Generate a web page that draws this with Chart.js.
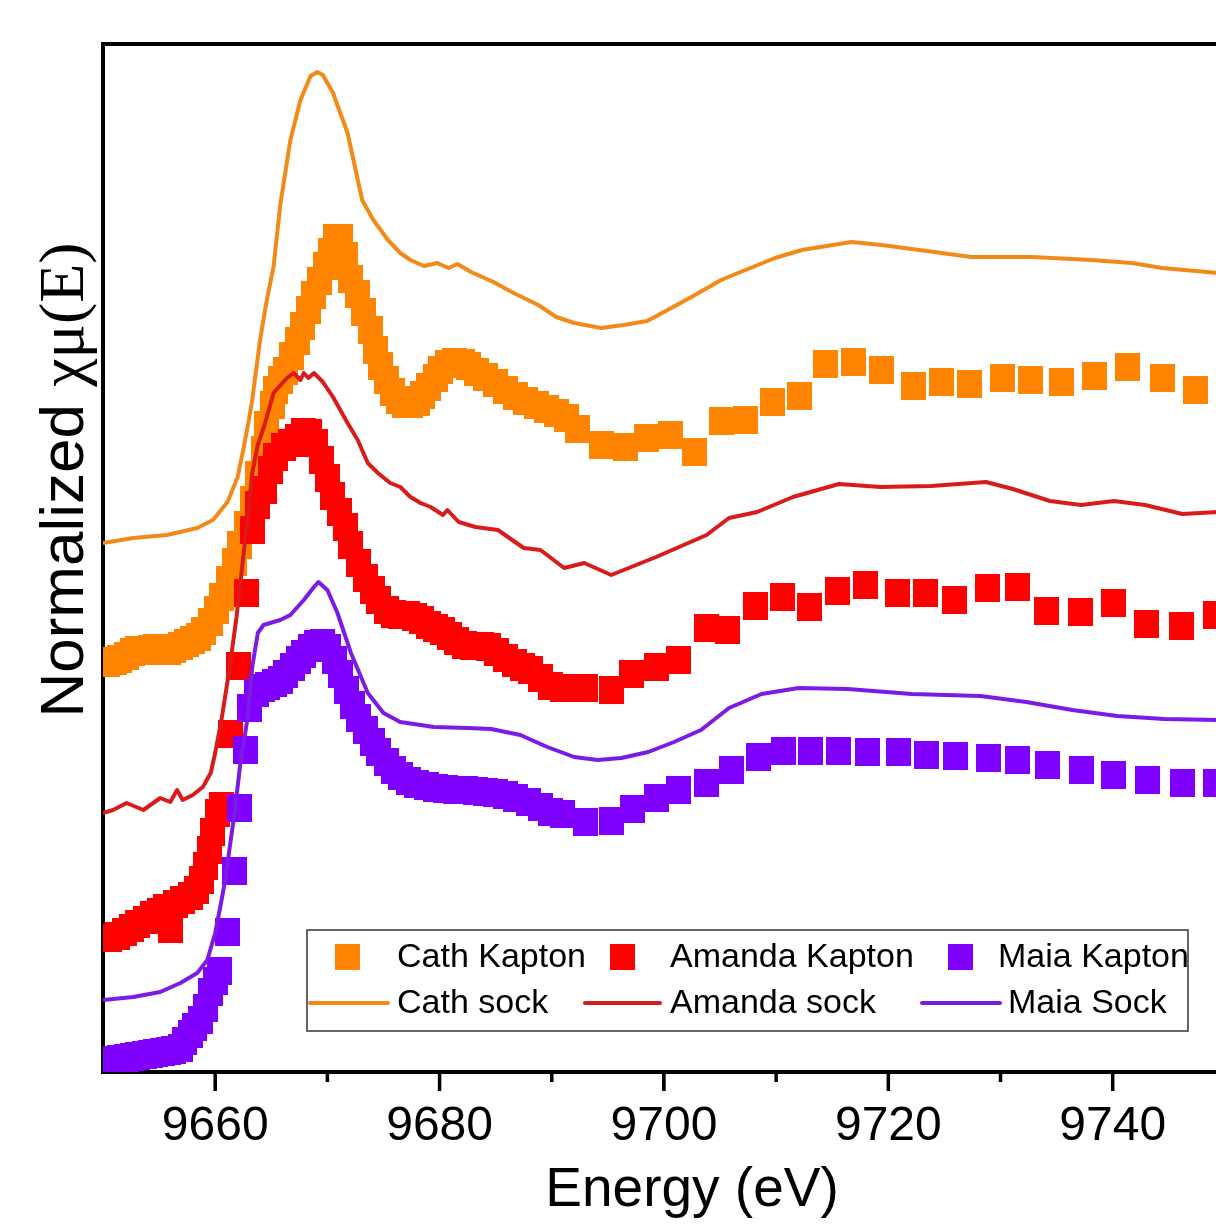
<!DOCTYPE html>
<html>
<head>
<meta charset="utf-8">
<title>Normalized XANES</title>
<script src="https://cdn.jsdelivr.net/npm/chart.js@4.4.1/dist/chart.umd.min.js"></script>
<style>
	html, body { margin: 0; padding: 0; background: #fff; overflow: hidden; }
	#wrap { position: relative; width: 1300px; height: 1228px; }
</style>
</head>
<body>
<div id="wrap"><canvas id="mycanvas"></canvas></div>
<script>
// energies in eV, normalized chi-mu(E) in stacked arbitrary units
var cathKaptonE = [9650.4, 9651.0, 9651.5, 9652.1, 9652.6, 9653.1, 9653.7, 9654.2, 9654.7, 9655.3, 9655.8, 9656.3, 9656.9, 9657.4, 9658.0, 9658.5, 9659.0, 9659.6, 9660.1, 9660.6, 9661.2, 9661.7, 9662.2, 9662.8, 9663.3,
	9663.8, 9664.3, 9664.6, 9665.1, 9665.4, 9665.8, 9666.3, 9666.8, 9667.3, 9667.8,
	9668.3, 9668.8, 9669.3, 9669.8, 9670.3, 9670.7, 9671.2, 9671.6, 9672.1, 9672.7,
	9673.2, 9673.8, 9674.3, 9674.7, 9675.3, 9675.8, 9676.3, 9676.9, 9677.4, 9678.0,
	9678.5, 9679.0, 9679.6, 9680.1, 9680.7, 9681.3, 9682.0, 9682.6, 9683.3, 9684.1,
	9685.0, 9685.9, 9686.8, 9687.7, 9688.6, 9689.5, 9690.4, 9691.3,
	9692.3, 9694.4, 9696.6,
	9698.4, 9700.6, 9702.7, 9705.1, 9707.3, 9709.7, 9712.1, 9714.4,
	9716.9, 9719.4, 9722.2, 9724.7, 9727.2, 9730.2, 9732.7, 9735.4, 9738.4, 9741.3, 9744.4, 9747.4];
var cathKaptonMu = [4.09, 4.11, 4.13, 4.16, 4.20, 4.22, 4.21, 4.23, 4.24, 4.23, 4.21, 4.23, 4.26, 4.29, 4.32, 4.35, 4.41, 4.50, 4.62, 4.75, 4.92, 5.10, 5.27, 5.47, 5.72,
	5.97, 6.22, 6.47, 6.67, 6.82, 6.92, 7.01, 7.16, 7.31, 7.46,
	7.62, 7.77, 7.91, 8.06, 8.20, 8.34, 8.34, 8.16, 7.93, 7.78,
	7.60, 7.42, 7.22, 7.06, 6.92, 6.80, 6.72, 6.68, 6.68, 6.70,
	6.77, 6.85, 6.94, 7.02, 7.08, 7.10, 7.09, 7.06, 7.00, 6.95,
	6.89, 6.82, 6.76, 6.71, 6.67, 6.63, 6.59, 6.54,
	6.43, 6.27, 6.25,
	6.34, 6.37, 6.20, 6.51, 6.52, 6.70, 6.76, 7.08,
	7.10, 7.02, 6.86, 6.90, 6.88, 6.94, 6.92, 6.90, 6.96, 7.05, 6.94, 6.82];

var amandaKaptonE = [9650.6, 9651.3, 9651.9, 9652.5, 9653.1, 9653.8, 9654.4, 9655.0, 9655.6, 9656.0,
	9656.5, 9657.1, 9657.8, 9658.3, 9658.8, 9659.1, 9659.5, 9659.8, 9660.2, 9660.6,
	9661.4, 9662.1, 9662.8, 9663.3, 9663.8, 9664.4, 9664.9, 9665.4, 9666.1, 9666.7,
	9667.3, 9667.9, 9668.4, 9668.9, 9669.5, 9670.0, 9670.5, 9671.1, 9671.6, 9672.1,
	9672.8, 9673.4, 9674.0, 9674.6, 9675.3, 9675.9, 9676.5, 9677.1, 9677.8, 9678.4,
	9679.0, 9679.6, 9680.3, 9680.9, 9681.5, 9682.2, 9682.9, 9683.7, 9684.4, 9685.1,
	9685.9, 9686.7, 9687.4, 9688.1, 9689.0, 9689.9, 9691.0, 9693.0, 9695.3, 9697.1,
	9699.3, 9701.3, 9703.8, 9705.7, 9708.2, 9710.6, 9713.0, 9715.5, 9718.0, 9720.8,
	9723.3, 9725.9, 9728.8, 9731.5, 9734.1, 9737.1, 9740.1, 9743.0, 9746.1, 9749.2];
var amandaKaptonMu = [1.34, 1.36, 1.40, 1.44, 1.48, 1.52, 1.57, 1.60, 1.64, 1.43,
	1.68, 1.72, 1.76, 1.82, 1.92, 2.06, 2.22, 2.40, 2.59, 2.66,
	3.38, 4.06, 4.79, 5.42, 5.67, 5.82, 6.02, 6.15, 6.25, 6.29,
	6.34, 6.40, 6.39, 6.29, 6.12, 5.94, 5.76, 5.60, 5.45, 5.27,
	5.09, 4.94, 4.82, 4.72, 4.62, 4.58, 4.57, 4.57, 4.55, 4.52,
	4.47, 4.44, 4.41, 4.36, 4.31, 4.27, 4.26, 4.26, 4.25, 4.20,
	4.14, 4.09, 4.05, 4.02, 3.94, 3.86, 3.84, 3.84, 3.82, 3.98,
	4.05, 4.12, 4.44, 4.42, 4.66, 4.75, 4.65, 4.81, 4.87, 4.79,
	4.79, 4.72, 4.84, 4.85, 4.61, 4.60, 4.69, 4.48, 4.46, 4.57];

var maiaKaptonE = [9650.4, 9651.0, 9651.5, 9652.1, 9652.6, 9653.1, 9653.7, 9654.2, 9654.7, 9655.3, 9655.8, 9656.3, 9656.9,
	9657.3, 9657.8, 9658.2, 9658.7, 9659.1, 9659.6, 9660.0, 9660.4,
	9661.1, 9661.7, 9662.2, 9662.7,
	9663.1, 9663.7, 9664.2, 9664.7, 9665.3, 9665.8, 9666.3, 9666.9, 9667.4, 9667.9,
	9668.5, 9669.0, 9669.6, 9670.1, 9670.6, 9671.2, 9671.7, 9672.2, 9672.8, 9673.4,
	9674.0, 9674.6, 9675.3, 9675.9, 9676.5, 9677.2, 9677.9, 9678.8, 9679.6, 9680.5,
	9681.4, 9682.3, 9683.2, 9684.1, 9685.0, 9685.9, 9686.8, 9687.9, 9689.0, 9689.9,
	9691.0, 9693.0, 9695.3, 9697.2, 9699.3, 9701.3, 9703.8, 9706.0, 9708.4, 9710.7,
	9713.1, 9715.6, 9718.1, 9720.9, 9723.4, 9726.0, 9728.9, 9731.5, 9734.2, 9737.2,
	9740.1, 9743.1, 9746.2, 9749.2];
var maiaKaptonMu = [0.11, 0.12, 0.13, 0.14, 0.15, 0.16, 0.17, 0.18, 0.19, 0.20, 0.21, 0.22, 0.24,
	0.31, 0.38, 0.45, 0.52, 0.64, 0.80, 0.91, 1.01,
	1.40, 2.01, 2.64, 3.22,
	3.64, 3.79, 3.84, 3.86, 3.89, 3.92, 3.98, 4.05, 4.12, 4.18,
	4.24, 4.28, 4.29, 4.24, 4.12, 3.98, 3.82, 3.67, 3.54, 3.42,
	3.30, 3.20, 3.10, 3.02, 2.96, 2.91, 2.88, 2.86, 2.84, 2.83,
	2.82, 2.82, 2.81, 2.80, 2.79, 2.77, 2.74, 2.70, 2.65, 2.60,
	2.58, 2.50, 2.51, 2.63, 2.74, 2.82, 2.89, 3.02, 3.15, 3.21,
	3.21, 3.21, 3.20, 3.20, 3.17, 3.16, 3.14, 3.12, 3.07, 3.02,
	2.97, 2.92, 2.89, 2.89];

var cathSockE = [9650.0, 9652.7, 9655.7, 9658.4, 9659.8, 9661.1, 9662.0, 9662.5, 9663.0, 9663.3, 9664.0, 9664.6, 9665.2, 9665.8, 9666.7,
	9667.6, 9668.5, 9669.1, 9669.6, 9670.5, 9671.8, 9673.1, 9674.1, 9675.4, 9676.5, 9677.4, 9678.6, 9679.8, 9680.8, 9681.6,
	9682.8, 9684.8, 9686.6, 9688.8, 9690.4, 9692.0, 9694.4, 9696.4, 9698.5, 9700.0, 9702.6, 9705.1, 9706.6, 9709.9, 9712.3,
	9716.7, 9719.4, 9724.1, 9727.4, 9732.8, 9738.1, 9741.7, 9744.4, 9749.4, 9752.0];
var cathSockMu = [5.29, 5.34, 5.37, 5.44, 5.52, 5.70, 5.95, 6.22, 6.52, 6.72, 7.32, 7.72, 8.05, 8.67, 9.32,
	9.72, 9.96, 10.00, 9.97, 9.79, 9.39, 8.72, 8.52, 8.32, 8.19, 8.12, 8.06, 8.09, 8.04, 8.08,
	8.00, 7.90, 7.79, 7.67, 7.55, 7.49, 7.44, 7.47, 7.51, 7.60, 7.76, 7.92, 7.99, 8.14, 8.22,
	8.30, 8.27, 8.20, 8.15, 8.15, 8.12, 8.09, 8.04, 7.99, 7.97];

var amandaSockE = [9650.0, 9650.9, 9652.1, 9653.6, 9655.1, 9656.0, 9656.6, 9657.1, 9658.0, 9658.9, 9659.6, 9660.0, 9660.6,
	9661.3, 9661.9, 9662.4, 9662.9, 9663.3, 9663.8, 9664.4, 9665.2, 9666.4, 9667.0, 9667.6, 9667.9, 9668.3,
	9668.8, 9669.6, 9670.5, 9671.8, 9672.7, 9673.6, 9674.5, 9675.6, 9676.5, 9677.4, 9678.3, 9679.2, 9680.3,
	9680.7, 9681.7, 9683.2, 9685.2, 9687.5, 9689.0, 9691.1, 9692.9, 9695.3, 9699.3, 9703.8, 9705.8, 9708.3,
	9711.5, 9715.6, 9719.3, 9723.8, 9728.7, 9731.1, 9734.4, 9737.2, 9740.1, 9742.9, 9746.2, 9749.4, 9752.0];
var amandaSockMu = [2.59, 2.62, 2.69, 2.62, 2.74, 2.70, 2.82, 2.72, 2.77, 2.85, 2.99, 3.19, 3.55,
	4.05, 4.55, 5.05, 5.55, 5.99, 6.27, 6.47, 6.79, 6.94, 6.99, 6.92, 6.99, 6.94,
	6.99, 6.90, 6.75, 6.49, 6.32, 6.09, 5.99, 5.89, 5.85, 5.75, 5.69, 5.65, 5.57,
	5.62, 5.50, 5.45, 5.42, 5.24, 5.22, 5.04, 5.09, 4.97, 5.15, 5.37, 5.54, 5.60,
	5.75, 5.88, 5.85, 5.86, 5.90, 5.83, 5.71, 5.67, 5.71, 5.67, 5.58, 5.60, 5.60];

var maiaSockE = [9650.0, 9652.7, 9655.1, 9656.9, 9658.4, 9659.3, 9660.0, 9660.4, 9660.9, 9661.3,
	9661.8, 9662.2, 9662.9, 9663.3, 9663.8, 9664.3, 9665.8, 9666.7, 9667.9, 9668.8,
	9669.2, 9670.0, 9670.9, 9672.1, 9673.6, 9675.0, 9676.5, 9679.5, 9682.5, 9684.6,
	9687.2, 9689.6, 9692.0, 9694.1, 9696.2, 9698.6, 9700.9, 9703.3, 9705.8, 9708.7,
	9712.0, 9716.4, 9722.1, 9728.2, 9732.3, 9736.4, 9740.4, 9744.6, 9749.4, 9752.0];
var maiaSockMu = [0.72, 0.75, 0.80, 0.89, 0.99, 1.12, 1.39, 1.62, 1.92, 2.25,
	2.65, 3.05, 3.55, 4.05, 4.39, 4.47, 4.52, 4.57, 4.72, 4.85,
	4.90, 4.82, 4.59, 4.19, 3.79, 3.59, 3.50, 3.45, 3.44, 3.43,
	3.37, 3.25, 3.15, 3.12, 3.14, 3.20, 3.30, 3.42, 3.64, 3.78,
	3.84, 3.83, 3.78, 3.76, 3.70, 3.62, 3.56, 3.53, 3.52, 3.52];

var seriesLabels = ['Cath Kapton', 'Amanda Kapton', 'Maia Kapton', 'Cath sock', 'Amanda sock', 'Maia Sock'];
var majorTicks = [9660, 9680, 9700, 9720, 9740];
var minorTicks = [9670, 9690, 9710, 9730, 9750];

var SANS = '"Liberation Sans", Arial, Helvetica, sans-serif';
var SERIF = '"Liberation Serif", "DejaVu Serif", "Times New Roman", serif';

function pairUp(xs, ys) {
	var out = [];
	for (var i = 0; i < Math.min(xs.length, ys.length); i++) {
		out.push({x: xs[i], y: ys[i]});
	}
	return out;
}

// Origin style filled square marker, a bit taller than wide like the picture
function squareMarker(color) {
	var c = document.createElement('canvas');
	c.width = 25;
	c.height = 28;
	var g = c.getContext('2d');
	g.fillStyle = color;
	g.fillRect(0, 0, 25, 28);
	return c;
}

function markerSet(label, xs, ys, color, order) {
	return {
		label: label,
		data: pairUp(xs, ys),
		showLine: false,
		pointStyle: squareMarker(color),
		pointRadius: 13,
		pointHoverRadius: 13,
		backgroundColor: color,
		borderColor: color,
		order: order
	};
}

function lineSet(label, xs, ys, color, order) {
	return {
		label: label,
		data: pairUp(xs, ys),
		showLine: true,
		borderColor: color,
		backgroundColor: color,
		borderWidth: 4,
		borderJoinStyle: 'round',
		pointRadius: 0,
		pointHoverRadius: 0,
		tension: 0,
		fill: false,
		order: order
	};
}

var frame = {
	id: 'frame',
	afterDraw: function(chart) {
		var ctx = chart.ctx;
		var a = chart.chartArea;
		var xs = chart.scales.x;
		ctx.save();
		ctx.strokeStyle = '#000';
		ctx.lineWidth = 4;
		ctx.beginPath();
		ctx.moveTo(a.left - 2, a.top);
		ctx.lineTo(a.right, a.top);
		ctx.lineTo(a.right, a.bottom);
		ctx.stroke();

		// outward ticks, long ones labelled
		ctx.lineWidth = 3.5;
		ctx.beginPath();
		majorTicks.forEach(function(v) {
			var px = xs.getPixelForValue(v);
			ctx.moveTo(px, a.bottom);
			ctx.lineTo(px, a.bottom + 19);
		});
		minorTicks.forEach(function(v) {
			var px = xs.getPixelForValue(v);
			ctx.moveTo(px, a.bottom);
			ctx.lineTo(px, a.bottom + 10);
		});
		ctx.stroke();

		// y title: sans word plus serif symbols
		ctx.translate(83, 480);
		ctx.rotate(-Math.PI / 2);
		ctx.fillStyle = '#000';
		ctx.textBaseline = 'alphabetic';
		ctx.textAlign = 'left';
		var word = 'Normalized ';
		var sym = 'χμ(E)';
		ctx.font = '62px ' + SANS;
		var w1 = ctx.measureText(word).width;
		ctx.font = '64px ' + SERIF;
		var w2 = ctx.measureText(sym).width;
		var start = -(w1 + w2) / 2;
		ctx.font = '62px ' + SANS;
		ctx.fillText(word, start, 0);
		ctx.font = '64px ' + SERIF;
		ctx.fillText(sym, start + w1, 0);
		ctx.restore();
	}
};

// legend slots: symbol centre, text start, row
var legendSlots = [
	{index: 0, sx: 347, tx: 397, y: 957},
	{index: 1, sx: 622, tx: 670, y: 957},
	{index: 2, sx: 960, tx: 998, y: 957},
	{index: 3, x1: 310, x2: 388, tx: 397, y: 1003},
	{index: 4, x1: 585, x2: 660, tx: 670, y: 1003},
	{index: 5, x1: 922, x2: 1000, tx: 1008, y: 1003}
];

var boxLegend = {
	id: 'boxLegend',
	afterDraw: function(chart) {
		var ctx = chart.ctx;
		ctx.save();
		ctx.fillStyle = '#fff';
		ctx.fillRect(307, 930, 881, 101);
		ctx.strokeStyle = '#333';
		ctx.lineWidth = 1.5;
		ctx.strokeRect(307, 930, 881, 101);
		ctx.font = '34px ' + SANS;
		ctx.textBaseline = 'middle';
		ctx.textAlign = 'left';
		legendSlots.forEach(function(s) {
			var ds = chart.data.datasets[s.index];
			if (ds.showLine) {
				ctx.strokeStyle = ds.borderColor;
				ctx.lineWidth = 4;
				ctx.lineCap = 'round';
				ctx.beginPath();
				ctx.moveTo(s.x1, s.y);
				ctx.lineTo(s.x2, s.y);
				ctx.stroke();
			} else {
				ctx.drawImage(ds.pointStyle, s.sx - 12.5, s.y - 13, 25, 26);
			}
			ctx.fillStyle = '#000';
			ctx.fillText(ds.label, s.tx, s.y + 1);
		});
		ctx.restore();
	}
};

var chartdata = {
	datasets: [
		markerSet(seriesLabels[0], cathKaptonE, cathKaptonMu, '#FF8500', 6),
		markerSet(seriesLabels[1], amandaKaptonE, amandaKaptonMu, '#FF0000', 5),
		markerSet(seriesLabels[2], maiaKaptonE, maiaKaptonMu, '#8000FF', 4),
		lineSet(seriesLabels[3], cathSockE, cathSockMu, '#F28A1A', 3),
		lineSet(seriesLabels[4], amandaSockE, amandaSockMu, '#D81B1B', 2),
		lineSet(seriesLabels[5], maiaSockE, maiaSockMu, '#7A1CE6', 1)
	]
};

var ctx = document.getElementById('mycanvas');

var xasChart = new Chart(ctx, {
	type: 'scatter',
	data: chartdata,
	plugins: [frame, boxLegend],
	options: {
		responsive: true,
		maintainAspectRatio: false,
		devicePixelRatio: 1,
		animation: false,
		layout: { padding: { top: 44, right: 19, bottom: 0, left: 0 } },
		plugins: {
			legend: { display: false },
			tooltip: { enabled: false }
		},
		scales: {
			x: {
				type: 'linear',
				position: 'bottom',
				min: 9650,
				max: 9755,
				afterBuildTicks: function(scale) {
					scale.ticks = majorTicks.map(function(v) { return {value: v}; });
				},
				afterFit: function(scale) { scale.height = 156; },
				ticks: {
					color: '#000',
					font: { family: SANS, size: 48 },
					padding: 8,
					maxRotation: 0,
					autoSkip: false,
					callback: function(value) { return String(value); }
				},
				grid: {
					display: true,
					drawOnChartArea: false,
					drawTicks: true,
					tickLength: 18,
					tickWidth: 3,
					tickColor: '#000',
					color: '#000',
					lineWidth: 3
				},
				border: { display: true, color: '#000', width: 4 },
				title: {
					display: true,
					text: 'Energy (eV)',
					color: '#000',
					font: { family: SANS, size: 55 },
					padding: { top: 0, bottom: 4 }
				}
			},
			y: {
				type: 'linear',
				min: 0,
				max: 10.28,
				afterFit: function(scale) { scale.width = 103; },
				ticks: { display: false },
				grid: { display: false },
				border: { display: true, color: '#000', width: 4 }
			}
		}
	}
});
</script>
</body>
</html>
